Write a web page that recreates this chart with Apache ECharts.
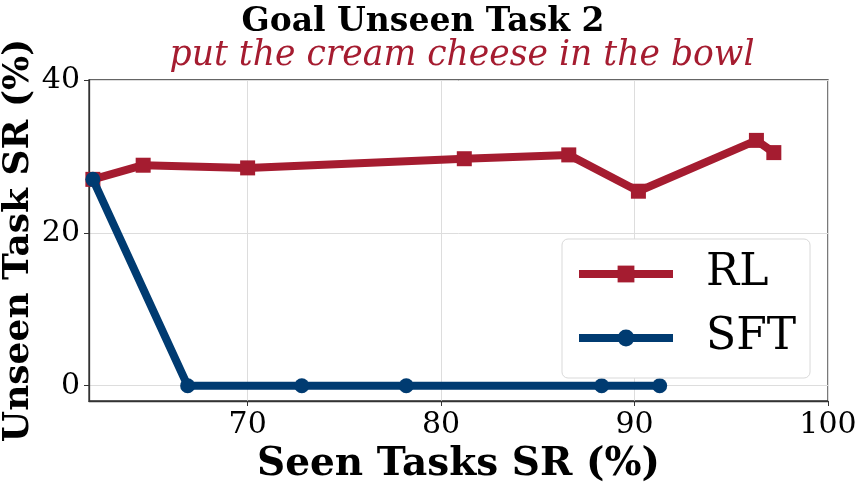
<!DOCTYPE html>
<html>
<head>
<meta charset="utf-8">
<script src="https://cdn.jsdelivr.net/npm/echarts@6/dist/echarts.min.js"></script>
<style>
  html, body { margin: 0; padding: 0; background: #fff; }
  #chart { width: 859px; height: 484px; }
</style>
</head>
<body>
<div id="chart"></div>
<script>
// values
const rlSeen = [62.0, 64.6, 70.0, 81.2, 86.6, 90.2, 96.3, 97.2];
const rlUnseen = [27.0, 28.85, 28.5, 29.7, 30.2, 25.45, 32.1, 30.5];
const sftSeen = [62.0, 66.9, 72.8, 78.2, 88.3, 91.3];
const sftUnseen = [27.0, 0, 0, 0, 0, 0];
const xTicks = [70, 80, 90, 100];
const yTicks = [0, 20, 40];

const RED = '#a51c30';
const BLUE = '#003b71';
const FONT = 'DejaVu Serif';

function pairs(xs, ys) {
    return xs.map((x, i) => [x, ys[i]]);
}

const chart = echarts.init(document.getElementById('chart'), null, { renderer: 'canvas' });

const option = {
    backgroundColor: '#fff',
    animation: false,
    title: [
        {
            text: 'Goal Unseen Task 2',
            left: 418, top: 1, textAlign: 'center',
            textStyle: { fontFamily: FONT, fontWeight: 'bold', fontSize: 33, color: '#000' }
        },
        {
            text: 'put the cream cheese in the bowl',
            left: 457, top: 34, textAlign: 'center',
            textStyle: { fontFamily: FONT, fontStyle: 'italic', fontWeight: 'normal', fontSize: 34.6, color: RED }
        }
    ],
    grid: {
        left: 89, right: 31, top: 80, bottom: 83,
        outerBoundsMode: 'none',
        show: true, borderColor: '#333', borderWidth: 1.3, backgroundColor: 'transparent'
    },
    legend: {
        data: ['RL', 'SFT'],
        orient: 'vertical',
        left: 562, top: 239,
        padding: [10, 14, 15, 13],
        backgroundColor: '#fff',
        borderColor: '#d9d9d9', borderWidth: 1, borderRadius: 6,
        itemWidth: 94, itemHeight: 21, itemGap: 14,
        lineStyle: { width: 8 },
        textStyle: { fontFamily: FONT, fontSize: 44, color: '#000', lineHeight: 50, padding: [0, 0, 0, 28] }
    },
    xAxis: {
        type: 'value', min: 61.8, max: 100,
        name: 'Seen Tasks SR (%)', nameLocation: 'middle', nameGap: 44,
        nameTextStyle: { fontFamily: FONT, fontWeight: 'bold', fontSize: 39, color: '#000' },
        axisLine: { show: true, onZero: false, lineStyle: { color: '#333', width: 1.3 } },
        axisTick: { show: true, length: 5, customValues: xTicks, lineStyle: { color: '#333' } },
        axisLabel: { customValues: xTicks, margin: 9, fontFamily: FONT, fontSize: 30, color: '#000' },
        splitLine: { show: true, lineStyle: { color: '#dddddd', width: 1 } }
    },
    yAxis: {
        type: 'value', min: -2, max: 40,
        name: 'Unseen Task SR (%)', nameLocation: 'middle', nameGap: 52,
        nameMoveOverlap: false,
        nameTextStyle: { fontFamily: FONT, fontWeight: 'bold', fontSize: 36, color: '#000' },
        axisLine: { show: true, onZero: false, lineStyle: { color: '#333', width: 1.3 } },
        axisTick: { show: true, length: 5, customValues: yTicks, lineStyle: { color: '#333' } },
        axisLabel: { customValues: yTicks, margin: 9, fontFamily: FONT, fontSize: 30, color: '#000' },
        splitLine: { show: true, lineStyle: { color: '#dddddd', width: 1 } }
    },
    series: [
        {
            name: 'RL', type: 'line',
            data: pairs(rlSeen, rlUnseen),
            symbol: 'rect', symbolSize: 15,
            lineStyle: { color: RED, width: 8 },
            itemStyle: { color: RED },
            z: 2
        },
        {
            name: 'SFT', type: 'line',
            data: pairs(sftSeen, sftUnseen),
            symbol: 'circle', symbolSize: 15,
            lineStyle: { color: BLUE, width: 8 },
            itemStyle: { color: BLUE },
            z: 3
        }
    ]
};

chart.setOption(option);
</script>
</body>
</html>
